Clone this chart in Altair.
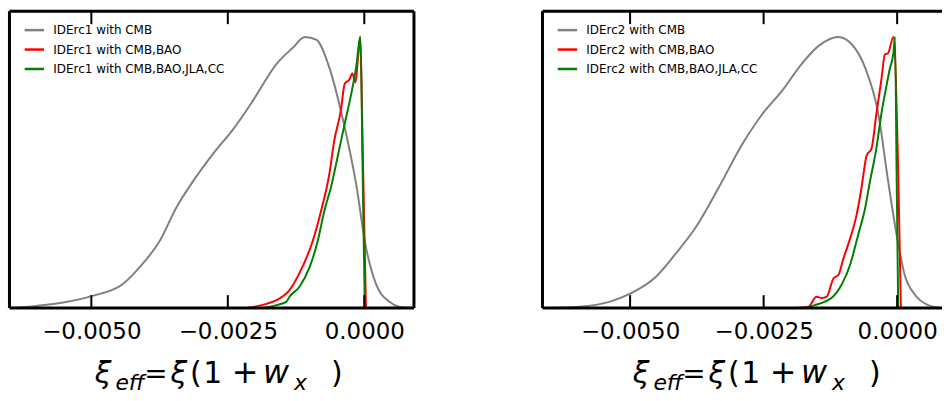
import altair as alt
import pandas as pd

# ---------------- data ----------------
# Panel 1: IDErc1
gray1_x = [-0.0065, -0.0060, -0.00544, -0.0050, -0.00441, -0.00411, -0.00374, -0.00344, -0.00313,
           -0.00277, -0.0024, -0.00204, -0.00161, -0.00131, -0.00109, -0.00088, -0.00064, -0.0004,
           -0.00015, 0.00003, 0.00021, 0.00046, 0.00064, 0.00091]
gray1_y = [0.0, 0.008, 0.023, 0.044, 0.091, 0.152, 0.25, 0.372, 0.47, 0.569, 0.66, 0.765, 0.9, 0.96,
           1.0, 0.99, 0.887, 0.703, 0.458, 0.225, 0.091, 0.023, 0.005, 0.0]
red1_x = [-0.00215, -0.00188, -0.00161, -0.00137, -0.00119, -0.00094, -0.00079, -0.00064, -0.00055,
          -0.00043, -0.00036, -0.00027, -0.00022, -0.00016, -0.00012, -0.00008, -0.00002, 0.00003]
red1_y = [0.0, 0.011, 0.029, 0.066, 0.128, 0.25, 0.36, 0.495, 0.618, 0.728, 0.826, 0.844, 0.865,
          0.832, 0.912, 1.0, 0.5, 0.0]
green1_x = [-0.00188, -0.00161, -0.00143, -0.00137, -0.00119, -0.001, -0.00085, -0.00073, -0.00061,
            -0.00049, -0.00036, -0.00024, -0.00015, -0.00007, -0.00003, 0.00001]
green1_y = [0.0, 0.011, 0.023, 0.042, 0.078, 0.152, 0.25, 0.36, 0.446, 0.556, 0.679, 0.789, 0.887,
            1.0, 0.5, 0.0]

# Panel 2: IDErc2
gray2_x = [-0.0066, -0.00595, -0.00539, -0.00499, -0.00452, -0.00415, -0.00377, -0.00334, -0.0029,
           -0.00253, -0.00216, -0.00179, -0.00147, -0.0011, -0.00085, -0.0006, -0.00035, -0.00017,
           -0.00001, 0.00014, 0.00033, 0.00058, 0.00084]
gray2_y = [0.0, 0.005, 0.023, 0.054, 0.115, 0.2, 0.298, 0.445, 0.604, 0.714, 0.8, 0.9, 0.967, 1.0,
           0.973, 0.887, 0.714, 0.47, 0.27, 0.123, 0.05, 0.011, 0.0]
red2_x = [-0.00191, -0.00166, -0.00151, -0.00141, -0.00132, -0.00119, -0.0011, -0.00101, -0.00088,
          -0.00076, -0.00067, -0.00057, -0.00048, -0.00039, -0.00029, -0.00023, -0.00017, -0.00007,
          0.00002, 0.00007]
red2_y = [0.0, 0.005, 0.042, 0.037, 0.042, 0.11, 0.122, 0.18, 0.257, 0.343, 0.44, 0.563, 0.588,
          0.714, 0.85, 0.935, 0.94, 1.0, 0.5, 0.0]
green2_x = [-0.00172, -0.00154, -0.00135, -0.00123, -0.00104, -0.00088, -0.00073, -0.0006, -0.00051,
            -0.00039, -0.00029, -0.0002, -0.00014, -0.00007, -0.00004, -0.00001, 0.00002]
green2_y = [0.0, 0.011, 0.024, 0.037, 0.086, 0.16, 0.27, 0.368, 0.466, 0.588, 0.723, 0.82, 0.88,
            0.94, 1.0, 0.5, 0.0]

labels1 = ["IDErc1 with CMB", "IDErc1 with CMB,BAO", "IDErc1 with CMB,BAO,JLA,CC"]
labels2 = ["IDErc2 with CMB", "IDErc2 with CMB,BAO", "IDErc2 with CMB,BAO,JLA,CC"]
colors = ["#808080", "#ff0000", "#008000"]
tick_values = [-0.005, -0.0025, 0.0]

# title pieces: (text, italic?, subscript?)
title_pieces = [("ξ", True, False), ("eff", True, True), ("=", False, False), ("ξ", True, False),
                ("(", False, False), ("1", False, False), ("+", False, False), ("w", True, False),
                ("x", True, True), (")", False, False)]
title_centers = [94, 121, 147, 170, 187, 204, 236.5, 267.5, 292, 328.5]

H = 298
FONT = "DejaVu Sans"


def make_df(xs_list, ys_list, labels):
    rows = []
    for xs, ys, lab in zip(xs_list, ys_list, labels):
        for x, y in zip(xs, ys):
            rows.append({"x": x, "y": y, "series": lab})
    return pd.DataFrame(rows)


one = alt.Data(values=[{"k": 0}])


def panel(df, labels, domain, width, right_border, shift):
    lines = alt.Chart(df).mark_line(strokeWidth=2, interpolate="monotone", clip=True).encode(
        x=alt.X("x:Q", scale=alt.Scale(domain=domain, nice=False, zero=False),
                axis=alt.Axis(values=tick_values, format=".4f", ticks=False, domain=False,
                              grid=False, labelFont=FONT, labelFontSize=23, labelColor="black",
                              labelPadding=13, title=None, labelFlush=False)),
        y=alt.Y("y:Q", scale=alt.Scale(domain=[0, 1.095], nice=False), axis=None),
        color=alt.Color("series:N", scale=alt.Scale(domain=labels, range=colors),
                        legend=alt.Legend(title=None, orient="none", legendX=14, legendY=8,
                                          symbolType="stroke", symbolStrokeWidth=2.5,
                                          symbolSize=380, labelFont=FONT, labelFontSize=12,
                                          labelColor="black", rowPadding=2.5, padding=0,
                                          labelOffset=8, labelLimit=400)),
    )
    tdf = pd.DataFrame({"t": tick_values})
    ticks_bottom = alt.Chart(tdf).mark_rule(color="black", strokeWidth=2).encode(
        x=alt.X("t:Q"), y=alt.value(H - 13), y2=alt.value(H))
    ticks_top = alt.Chart(tdf).mark_rule(color="black", strokeWidth=2).encode(
        x=alt.X("t:Q"), y=alt.value(0), y2=alt.value(13))
    frame = [
        alt.Chart(one).mark_rule(color="black", strokeWidth=3).encode(
            x=alt.value(0), x2=alt.value(width), y=alt.value(0)),
        alt.Chart(one).mark_rule(color="black", strokeWidth=3).encode(
            x=alt.value(0), x2=alt.value(width), y=alt.value(H)),
        alt.Chart(one).mark_rule(color="black", strokeWidth=3).encode(
            x=alt.value(0), y=alt.value(0), y2=alt.value(H)),
    ]
    if right_border:
        frame.append(alt.Chart(one).mark_rule(color="black", strokeWidth=3).encode(
            x=alt.value(width), y=alt.value(0), y2=alt.value(H)))
    texts = []
    for (txt, ital, sub), cx in zip(title_pieces, title_centers):
        if sub:
            size = 22
        elif txt in ("w", "+"):
            size = 32
        elif txt == "=":
            size = 28
        else:
            size = 30
        texts.append(alt.Chart(one).mark_text(
            font=FONT, fontSize=size, fontStyle="italic" if ital else "normal",
            align="center", baseline="alphabetic", color="black").encode(
            x=alt.value(cx + shift), y=alt.value(380 if sub else 373), text=alt.value(txt)))
    return alt.layer(lines, ticks_bottom, ticks_top, *frame, *texts).properties(
        width=width, height=H)


df1 = make_df([gray1_x, red1_x, green1_x], [gray1_y, red1_y, green1_y], labels1)
df2 = make_df([gray2_x, red2_x, green2_x], [gray2_y, red2_y, green2_y], labels2)
p1 = panel(df1, labels1, [-0.0065, 0.00091], 406, True, 0)
p2 = panel(df2, labels2, [-0.00664, 0.00084], 401, False, 5)

chart = alt.hconcat(p1, p2, spacing=125).resolve_scale(color="independent", x="independent").properties(
    padding={"left": 7.5, "top": 8.5, "right": 0, "bottom": 0}
).configure_view(stroke=None)

chart.save("out.html", embed_options={"renderer": "svg", "actions": False})
